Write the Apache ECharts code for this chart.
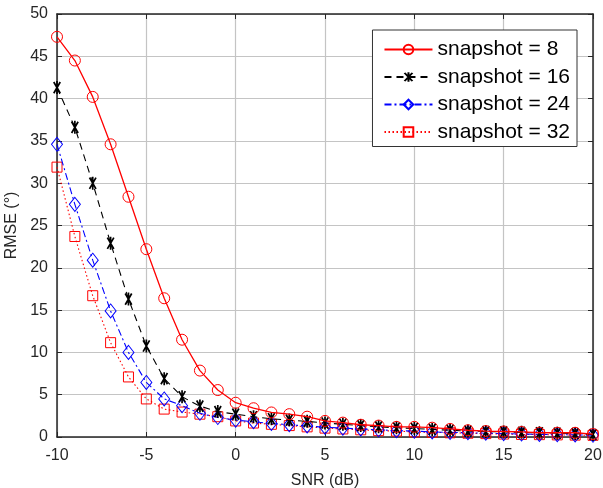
<!DOCTYPE html>
<html>
<head>
<meta charset="utf-8">
<script src="https://cdn.jsdelivr.net/npm/echarts@6/dist/echarts.min.js"></script>
<style>
  html, body { margin: 0; padding: 0; background: #fff; }
  #chart { width: 603px; height: 488px; }
</style>
</head>
<body>
<div id="chart"></div>
<script>
// SNR (dB), one point per integer step
const snr = []
for (let s = -10; s <= 20; s++) snr.push(s)

const snap8 = [47.3, 44.5, 40.2, 34.6, 28.4, 22.2, 16.4, 11.5, 7.85, 5.55, 4.05,
  3.4, 2.9, 2.7, 2.4, 1.9, 1.7, 1.45, 1.35, 1.2, 1.2, 1.1, 0.95, 0.8, 0.7, 0.65,
  0.6, 0.5, 0.5, 0.5, 0.35]
const snap16 = [41.3, 36.6, 30.0, 22.9, 16.3, 10.75, 6.9, 4.75, 3.65, 3.0, 2.7,
  2.4, 2.15, 2.0, 1.85, 1.65, 1.5, 1.35, 1.2, 1.1, 1.0, 0.9, 0.8, 0.7, 0.65, 0.6,
  0.55, 0.5, 0.45, 0.4, 0.3]
const snap24 = [34.6, 27.5, 20.9, 14.9, 10.0, 6.45, 4.5, 3.7, 2.8, 2.3, 2.0,
  1.8, 1.6, 1.45, 1.3, 1.15, 1.05, 0.95, 0.85, 0.75, 0.7, 0.6, 0.55, 0.5, 0.45,
  0.4, 0.35, 0.3, 0.28, 0.25, 0.2]
const snap32 = [31.9, 23.7, 16.7, 11.15, 7.1, 4.5, 3.3, 2.95, 2.7, 2.4, 1.9,
  1.65, 1.5, 1.35, 1.2, 1.05, 0.95, 0.85, 0.75, 0.7, 0.6, 0.55, 0.5, 0.45, 0.4,
  0.35, 0.3, 0.28, 0.25, 0.22, 0.2]

const seriesNames = ['snapshot = 8', 'snapshot = 16', 'snapshot = 24', 'snapshot = 32']

// matlab style '*' marker
const asterisk = 'path://M-0.13 -1L0.13 -1L0.13 1L-0.13 1Z' +
  'M0.386 0.932L-0.614 -0.800L-0.386 -0.932L0.614 0.800Z' +
  'M0.614 -0.800L-0.386 0.932L-0.614 0.800L0.386 -0.932Z'

const pairs = (arr) => snr.map((x, i) => [x, arr[i]])

const chart = echarts.init(document.getElementById('chart'))

const font = 'Arial, "Liberation Sans", sans-serif'
const tickColor = '#262626'

const baseX = {
  type: 'value',
  min: -10,
  max: 20,
  interval: 5,
  axisLine: { show: true, onZero: false, lineStyle: { color: '#262626', width: 1.5 } },
  axisTick: { show: true, inside: true, length: 5, lineStyle: { color: '#262626' } },
}
const baseY = {
  type: 'value',
  min: 0,
  max: 50,
  interval: 5,
  axisLine: { show: true, onZero: false, lineStyle: { color: '#262626', width: 1.5 } },
  axisTick: { show: true, inside: true, length: 5, lineStyle: { color: '#262626' } },
}

const option = {
  backgroundColor: '#fff',
  animation: false,
  textStyle: { fontFamily: font },
  grid: { left: 57, right: 10, top: 14, bottom: 51, outerBoundsMode: 'none' },
  legend: {
    orient: 'vertical',
    right: 26,
    top: 30,
    padding: [9, 7, 4, 11],
    itemWidth: 48,
    itemHeight: 12,
    itemGap: 6.5,
    backgroundColor: '#fff',
    borderColor: '#333',
    borderWidth: 1,
    borderRadius: 0,
    textStyle: { fontSize: 21, color: '#000', lineHeight: 21, fontFamily: font },
    data: seriesNames,
  },
  xAxis: [
    {
      ...baseX,
      position: 'bottom',
      name: 'SNR (dB)',
      nameLocation: 'middle',
      nameGap: 36,
      nameTextStyle: { fontSize: 16, color: tickColor },
      axisLabel: { fontSize: 16, color: tickColor, margin: 11 },
      splitLine: { show: true, lineStyle: { color: '#c4c4c4', width: 1.2 } },
    },
    {
      ...baseX,
      position: 'top',
      axisLabel: { show: false },
      splitLine: { show: false },
    },
  ],
  yAxis: [
    {
      ...baseY,
      position: 'left',
      name: 'RMSE (°)',
      nameLocation: 'middle',
      nameGap: 30,
      nameTextStyle: { fontSize: 16, color: tickColor },
      axisLabel: { fontSize: 16, color: tickColor, margin: 9 },
      splitLine: { show: true, lineStyle: { color: '#c4c4c4', width: 1.2 } },
    },
    {
      ...baseY,
      position: 'right',
      axisLabel: { show: false },
      splitLine: { show: false },
    },
  ],
  series: [
    {
      name: seriesNames[0],
      type: 'line',
      data: pairs(snap8),
      symbol: 'circle',
      symbolSize: 11,
      itemStyle: { color: 'transparent', borderColor: '#ff0000', borderWidth: 1 },
      lineStyle: { color: '#ff0000', width: 1.3, type: 'solid' },
      z: 4,
    },
    {
      name: seriesNames[1],
      type: 'line',
      data: pairs(snap16),
      symbol: asterisk,
      symbolSize: 13,
      symbolKeepAspect: true,
      itemStyle: { color: '#000', borderColor: '#000', borderWidth: 0 },
      lineStyle: { color: '#000', width: 1.1, type: [7, 5] },
      z: 3,
    },
    {
      name: seriesNames[2],
      type: 'line',
      data: pairs(snap24),
      symbol: 'diamond',
      symbolSize: [11, 14],
      itemStyle: { color: 'transparent', borderColor: '#0000ff', borderWidth: 1 },
      lineStyle: { color: '#0000ff', width: 1.1, type: [7, 3, 2, 3] },
      z: 2,
    },
    {
      name: seriesNames[3],
      type: 'line',
      data: pairs(snap32),
      symbol: 'rect',
      symbolSize: 10,
      itemStyle: { color: 'transparent', borderColor: '#ff0000', borderWidth: 1 },
      lineStyle: { color: '#ff0000', width: 1.1, type: [1.5, 2.5] },
      z: 1,
    },
  ],
}

chart.setOption(option)
</script>
</body>
</html>
